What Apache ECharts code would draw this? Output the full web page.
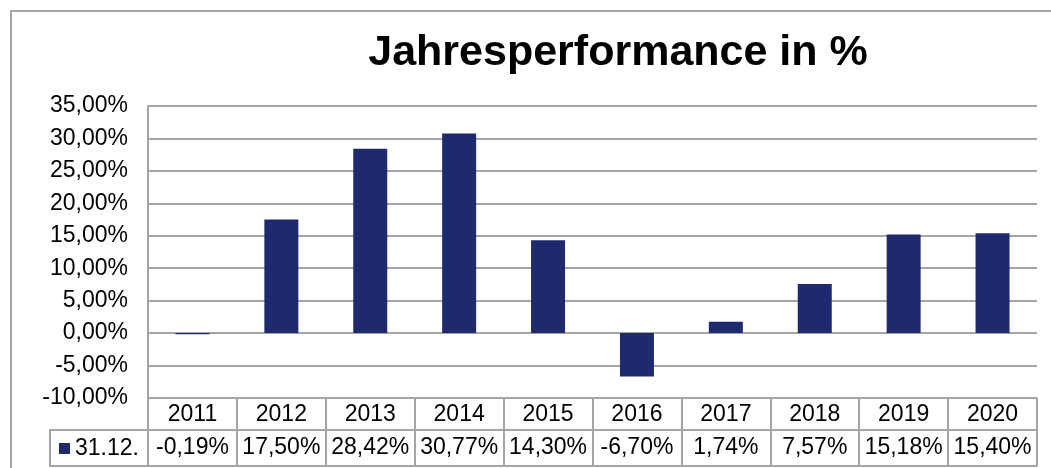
<!DOCTYPE html>
<html>
<head>
<meta charset="utf-8">
<script src="https://cdn.jsdelivr.net/npm/echarts@6/dist/echarts.min.js"></script>
<style>
html,body{margin:0;padding:0;background:#fff;}
#chart{width:1051px;height:468px;}
</style>
</head>
<body>
<div id="chart"></div>
<script>
const years = ['2011','2012','2013','2014','2015','2016','2017','2018','2019','2020'];
const values = [-0.19, 17.50, 28.42, 30.77, 14.30, -6.70, 1.74, 7.57, 15.18, 15.40];
const seriesName = '31.12.';
const titleText = 'Jahresperformance in %';

const fmt = v => v.toFixed(2).replace('.', ',') + '%';
const valueLabels = values.map(fmt);

const gray = '#a5a5a5';
const font = '"Liberation Sans", Arial, sans-serif';

const chart = echarts.init(document.getElementById('chart'));
chart.setOption({
  animation: false,
  textStyle: { fontFamily: font },
  title: {
    text: titleText,
    left: 613,
    top: 27,
    textAlign: 'center',
    textStyle: { fontSize: 43, fontWeight: 'bold', color: '#000', fontFamily: font }
  },
  legend: {
    data: [seriesName],
    left: 59,
    top: 437,
    padding: 0,
    icon: 'rect',
    itemWidth: 11,
    itemHeight: 11,
    textStyle: { fontSize: 23, color: '#000', fontFamily: font }
  },
  grid: { left: 148, right: 14, top: 106, bottom: 70, containLabel: false },
  xAxis: [
    {
      type: 'category', data: years, position: 'bottom',
      axisLine: { show: true, onZero: false, lineStyle: { color: gray, width: 2 } },
      axisTick: { show: true, interval: 0, length: 68, lineStyle: { color: gray, width: 2 } },
      axisLabel: { fontSize: 23, color: '#000', margin: 5, interval: 0, fontFamily: font }
    },
    {
      type: 'category', data: valueLabels, position: 'bottom', offset: 32,
      axisLine: { show: true, onZero: false, lineStyle: { color: gray, width: 2 } },
      axisTick: { show: false },
      axisLabel: { fontSize: 23, color: '#000', margin: 6, interval: 0, fontFamily: font }
    },
    {
      type: 'category', data: years, position: 'bottom', offset: 68,
      axisLine: { show: true, onZero: false, lineStyle: { color: gray, width: 2 } },
      axisTick: { show: false },
      axisLabel: { show: false }
    }
  ],
  yAxis: {
    type: 'value', min: -10, max: 35, interval: 5,
    axisLine: { show: true, lineStyle: { color: gray, width: 2 } },
    axisTick: { show: false },
    splitLine: { show: true, lineStyle: { color: gray, width: 2 } },
    axisLabel: { fontSize: 23, color: '#000', margin: 20, fontFamily: font, formatter: v => fmt(v) }
  },
  series: [{
    name: seriesName,
    type: 'bar',
    xAxisIndex: 0,
    data: values,
    barWidth: 34,
    itemStyle: { color: '#1f2a6e' }
  }],
  graphic: [
    { type: 'polyline', silent: true, z: 100,
      shape: { points: [[11, 468], [11, 11], [1051, 11]] },
      style: { stroke: gray, lineWidth: 2, fill: null } },
    { type: 'rect', silent: true, z: 100,
      shape: { x: 50, y: 430, width: 98, height: 36 },
      style: { stroke: gray, lineWidth: 2, fill: null } }
  ]
});
</script>
</body>
</html>
